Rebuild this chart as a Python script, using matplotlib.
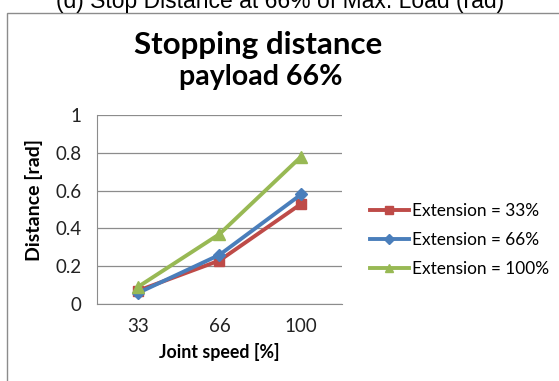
import matplotlib
matplotlib.use('Agg')
import matplotlib.pyplot as plt
from matplotlib.patches import Rectangle

# ==============================
# DATA
# ==============================

categories = ["33", "66", "100"]
ext_33 = [0.07, 0.23, 0.53]
ext_66 = [0.058, 0.26, 0.58]
ext_100 = [0.09, 0.37, 0.78]
series_labels = ["Extension = 33%", "Extension = 66%", "Extension = 100%"]
y_ticks = [0, 0.2, 0.4, 0.6, 0.8, 1]
y_tick_labels = ["0", "0.2", "0.4", "0.6", "0.8", "1"]

# ==============================
# FIGURE
# ==============================

W, H = 559, 381
fig = plt.figure(figsize=(W / 100, H / 100), dpi=100)
plt.rcParams['font.family'] = ['Lato', 'DejaVu Sans']

# chart frame (cut off on right/bottom)
fig.patches.append(Rectangle((7 / W, -0.1), 1.2, 1 - 13 / H + 0.1,
                             transform=fig.transFigure, fill=False,
                             edgecolor="#8c8c8c", linewidth=1.0))

# caption of the figure above, only partly visible (cropped like the source)
fig.text(280 / W, 1 - 8 / H, "(d) Stop Distance at 66% of Max. Load (rad)",
         ha="center", va="baseline", fontsize=16.5, family="Liberation Sans")

fig.text(258 / W, 1 - 54 / H, "Stopping distance", ha="center", va="baseline",
         fontsize=22.5, fontweight="bold")
fig.text(261 / W, 1 - 85 / H, "payload 66%", ha="center", va="baseline",
         fontsize=20.5, fontweight="bold")

ax = fig.add_axes([97 / W, 1 - 304 / H, (342 - 97) / W, (304 - 115) / H])

x = list(range(len(categories)))
l1, = ax.plot(x, ext_33, color="#BE4B48", marker="s", markersize=7, linewidth=2.8)
l2, = ax.plot(x, ext_66, color="#4A7EBB", marker="D", markersize=6, linewidth=2.8)
l3, = ax.plot(x, ext_100, color="#98B954", marker="^", markersize=8, linewidth=2.8)

ax.set_xlim(-0.5, len(categories) - 0.5)
ax.set_ylim(0, 1)
ax.set_xticks(x)
ax.set_xticklabels(categories)
ax.set_yticks(y_ticks)
ax.set_yticklabels(y_tick_labels)
ax.tick_params(axis="both", length=0, labelsize=13.5, colors="#222222")
ax.tick_params(axis="x", pad=10)
ax.tick_params(axis="y", pad=11)
ax.yaxis.grid(True, color="#8c8c8c", linewidth=0.9)
ax.set_axisbelow(True)
for side in ["top", "right"]:
    ax.spines[side].set_visible(False)
ax.spines["left"].set_color("#8c8c8c")
ax.spines["bottom"].set_color("#8c8c8c")

ax.set_xlabel("Joint speed [%]", fontsize=12.8, fontweight="bold", labelpad=6)
ax.set_ylabel("Distance [rad]", fontsize=14, fontweight="bold")
ax.yaxis.set_label_coords(-(97 - 43) / (342 - 97), (304 - 200) / (304 - 115))

fig.legend([l1, l2, l3], series_labels, loc="center left",
           bbox_to_anchor=(354 / W, 1 - 240 / H), frameon=False,
           fontsize=12.4, handlelength=2.3, handletextpad=0.15,
           labelspacing=0.75, markerscale=0.8)

plt.savefig("out.png", dpi=100)
